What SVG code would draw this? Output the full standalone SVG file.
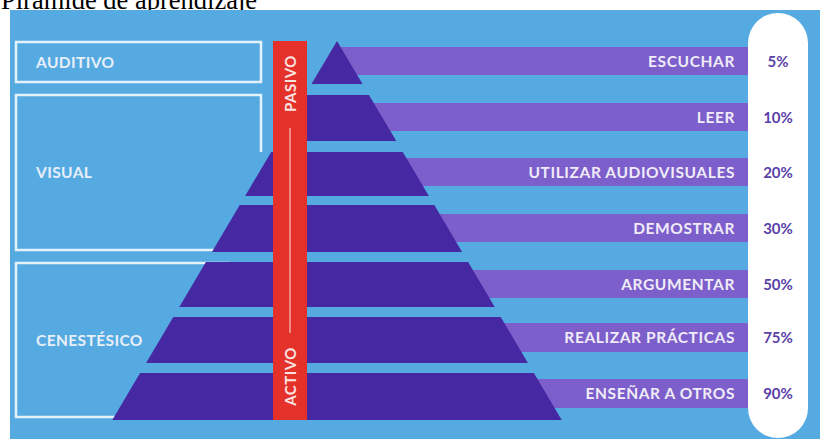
<svg xmlns="http://www.w3.org/2000/svg" width="820" height="439" viewBox="0 0 820 439">
<style>
.box{fill:none;stroke:#e4f3fb;stroke-width:2.5}
.lbl{font-family:Lato,"Open Sans",sans-serif;font-weight:bold;font-size:15.5px;fill:#e8eff8;letter-spacing:0.4px}
.tier{fill:#4628a3}
.bar{fill:#7c5fca}
.act{font-family:Lato,"Open Sans",sans-serif;font-weight:bold;font-size:15.5px;fill:#f0ecf9;letter-spacing:0.6px;text-anchor:end}
.pct{font-family:Lato,"Open Sans",sans-serif;font-weight:bold;font-size:15px;fill:#5a40a8;text-anchor:middle}
.side{font-family:Lato,"Open Sans",sans-serif;font-weight:bold;font-size:15px;fill:#fbe3e2;letter-spacing:0.5px;text-anchor:middle}
</style>
<text x="1" y="9" font-family="'Liberation Serif',serif" font-size="26.5" fill="#000">Pirámide de aprendizaje</text>
<rect x="10" y="10" width="810" height="429" fill="#55aae1"/>

<g id="auditivo">
<rect class="box" x="16" y="42" width="245" height="40"/>
<text class="lbl" x="36" y="67.5">AUDITIVO</text>
</g>
<g id="visual">
<path class="box" d="M261,152 V95 H16 V250 H240"/>
<text class="lbl" x="36" y="177.5">VISUAL</text>
</g>
<g id="cenestesico">
<path class="box" d="M230,263 H16 V417 H130"/>
<text class="lbl" x="36" y="346">CENESTÉSICO</text>
</g>

<g id="bars">
<rect class="bar" x="337" y="47" width="420" height="28"/>
<rect class="bar" x="337" y="103" width="420" height="28"/>
<rect class="bar" x="337" y="158" width="420" height="28"/>
<rect class="bar" x="337" y="214" width="420" height="28"/>
<rect class="bar" x="337" y="270" width="420" height="28"/>
<rect class="bar" x="337" y="323" width="420" height="29"/>
<rect class="bar" x="337" y="379" width="420" height="29"/>
</g>

<g id="pyramid">
<polygon class="tier" points="337,41 362.5,84 311.5,84"/>
<polygon class="tier" points="305,95 369,95 396.3,141 277.7,141"/>
<polygon class="tier" points="271.2,152 402.8,152 428.9,196 245.1,196"/>
<polygon class="tier" points="239.7,205 434.3,205 462.1,252 211.9,252"/>
<polygon class="tier" points="205.9,262 468.1,262 494.7,307 179.3,307"/>
<polygon class="tier" points="173.3,317 500.7,317 527.9,363 146.1,363"/>
<polygon class="tier" points="140.1,373 533.9,373 561.7,420 112.3,420"/>
</g>

<g id="eje">
<rect x="273" y="41" width="34" height="379" fill="#e4322b"/>
<line x1="290" y1="128" x2="290" y2="333" stroke="#f4a7a4" stroke-width="1.5"/>
<text class="side" transform="translate(295.5,83.5) rotate(-90)">PASIVO</text>
<text class="side" transform="translate(295.5,376.5) rotate(-90)">ACTIVO</text>
</g>

<g id="actividades">
<text class="act" x="735" y="66.5">ESCUCHAR</text>
<text class="act" x="735" y="122.5">LEER</text>
<text class="act" x="735" y="177.5">UTILIZAR AUDIOVISUALES</text>
<text class="act" x="735" y="233.5">DEMOSTRAR</text>
<text class="act" x="735" y="289.5">ARGUMENTAR</text>
<text class="act" x="735" y="343">REALIZAR PRÁCTICAS</text>
<text class="act" x="735" y="399">ENSEÑAR A OTROS</text>
</g>

<g id="porcentajes">
<rect x="748" y="13" width="60" height="425" rx="30" fill="#ffffff"/>
<text class="pct" x="778" y="66.5">5%</text>
<text class="pct" x="778" y="122.5">10%</text>
<text class="pct" x="778" y="177.5">20%</text>
<text class="pct" x="778" y="233.5">30%</text>
<text class="pct" x="778" y="289.5">50%</text>
<text class="pct" x="778" y="343">75%</text>
<text class="pct" x="778" y="399">90%</text>
</g>

<g id="connectors"/>
</svg>
